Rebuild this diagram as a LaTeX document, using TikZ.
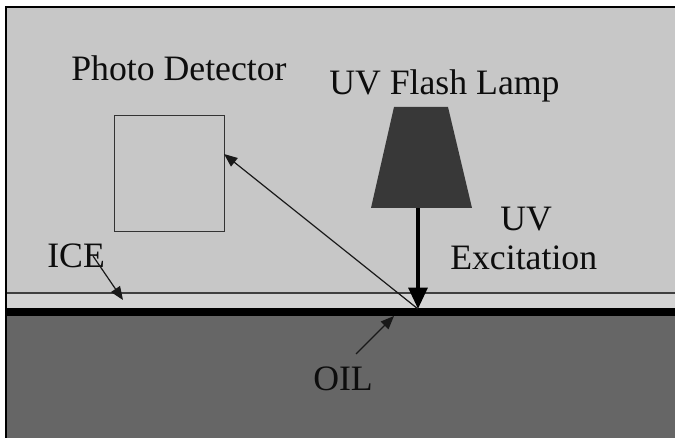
\documentclass[tikz,border=0pt]{standalone}
\usepackage{fontspec}
\setmainfont{Liberation Serif}
\usetikzlibrary{arrows.meta}
\definecolor{airc}{gray}{0.78}
\definecolor{icec}{gray}{0.83}
\definecolor{oilc}{gray}{0.40}
\definecolor{lampc}{gray}{0.22}
\tikzset{
  lbl/.style={inner sep=0pt,anchor=base west,font=\fontsize{26.8}{30}\selectfont,text=black!95},
  thin arrow/.style={draw=black!90,line width=0.9pt,-{Triangle[length=10pt,width=8pt]}},
  thick arrow/.style={draw=black,line width=3pt,-{Triangle[length=16pt,width=14pt]}}
}
\begin{document}
\begin{tikzpicture}[x=0.75pt,y=-0.75pt]
\useasboundingbox (0,0) rectangle (675,438);
\fill[white] (0,0) rectangle (675,438);
\fill[airc] (6,7) rectangle (675,293);
\fill[icec] (6,293) rectangle (675,308);
\fill[oilc] (6,315) rectangle (675,438);
\fill[black] (6,308) rectangle (675,316);
\draw[black!75,line width=0.9pt] (6,293) -- (675,293);
\draw[black,line width=1.3pt] (6,438) -- (6,7) -- (675,7);
\node[draw=black!80,line width=0.9pt,minimum width=82.5pt,minimum height=87pt,inner sep=0pt] (det) at (169.5,173.5) {};
\node[lbl] (detl) at (71,81) {Photo Detector};
\node[lbl] (lampl) at (329,95) {UV Flash Lamp};
\node[lbl] (uv) at (500,231) {UV};
\node[lbl] (exc) at (450,270) {Excitation};
\node[lbl] (ice) at (47,268) {ICE};
\node[lbl] (oil) at (313,391) {OIL};
\fill[lampc] (394,107) -- (448,107) -- (472,208) -- (371,208) -- cycle;
\coordinate (lampb) at (418,208);
\coordinate (hit) at (418,309);
\coordinate (dettip) at (224,154);
\coordinate (icefrom) at (93,256);
\coordinate (iceto) at (123,300);
\coordinate (oilfrom) at (356,354);
\coordinate (oilto) at (394,316);
\draw[thin arrow] (hit) -- (dettip);
\draw[thin arrow] (icefrom) -- (iceto);
\draw[thin arrow] (oilfrom) -- (oilto);
\draw[thick arrow] (lampb) -- (hit);
\end{tikzpicture}
\end{document}
